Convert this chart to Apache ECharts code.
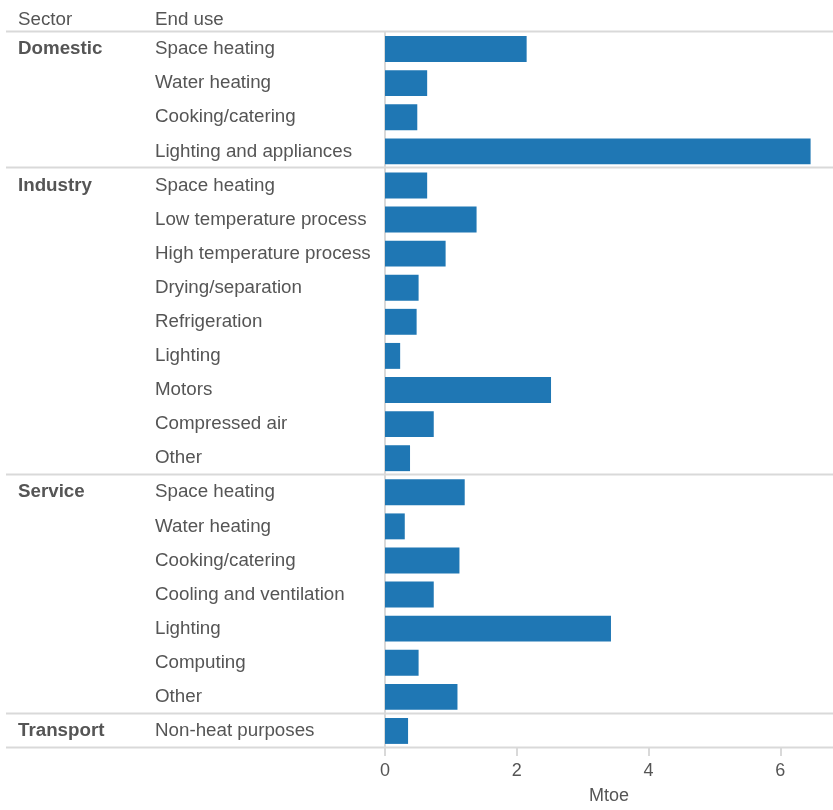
<!DOCTYPE html>
<html>
<head>
<meta charset="utf-8">
<script src="https://cdn.jsdelivr.net/npm/echarts@6/dist/echarts.min.js"></script>
<style>html,body{margin:0;padding:0;background:#fff;}#c{width:833px;height:810px;}</style>
</head>
<body>
<div id="c"></div>
<script>
const rowSector = ['Domestic','Domestic','Domestic','Domestic',
  'Industry','Industry','Industry','Industry','Industry','Industry','Industry','Industry','Industry',
  'Service','Service','Service','Service','Service','Service','Service',
  'Transport'];
const endUse = ['Space heating','Water heating','Cooking/catering','Lighting and appliances',
  'Space heating','Low temperature process','High temperature process','Drying/separation','Refrigeration','Lighting','Motors','Compressed air','Other',
  'Space heating','Water heating','Cooking/catering','Cooling and ventilation','Lighting','Computing','Other',
  'Non-heat purposes'];
const mtoe = [2.15, 0.64, 0.49, 6.46,
  0.64, 1.39, 0.92, 0.51, 0.48, 0.23, 2.52, 0.74, 0.38,
  1.21, 0.30, 1.13, 0.74, 3.43, 0.51, 1.10,
  0.35];
const xTicks = [0, 2, 4, 6];
const headers = ['Sector', 'End use'];
const axisName = 'Mtoe';

const FONT = '"Liberation Sans", Arial, sans-serif';
const TXT = '#555555';
const LINE = '#d9d9d9';
const FS = 18.75;
const idx = endUse.map((_, i) => String(i));

const chart = echarts.init(document.getElementById('c'), null, {renderer: 'canvas'});
const option = {
  animation: false,
  backgroundColor: '#fff',
  textStyle: {fontFamily: FONT},
  grid: {left: 385, top: 32, width: 450, height: 720, containLabel: false},
  xAxis: {
    type: 'value', min: 0, max: 6.8, interval: 2,
    name: axisName, nameLocation: 'middle', nameGap: 39,
    nameTextStyle: {color: TXT, fontSize: 18, fontFamily: FONT},
    axisLine: {show: false},
    axisTick: {show: true, length: 8, lineStyle: {color: LINE, width: 2}, customValues: xTicks},
    axisLabel: {color: TXT, fontSize: 18, fontFamily: FONT, margin: 14, customValues: xTicks},
    splitLine: {show: false}
  },
  yAxis: [{
    type: 'category', data: idx, inverse: true, offset: 1,
    axisLine: {show: true, lineStyle: {color: LINE, width: 2}},
    axisTick: {show: false},
    axisLabel: {align: 'left', margin: 229, color: TXT, fontSize: FS, fontFamily: FONT,
      formatter: v => endUse[+v]},
  }, {
    type: 'category', data: idx, inverse: true, position: 'left', offset: 1,
    axisLine: {show: false}, axisTick: {show: false},
    axisLabel: {align: 'left', margin: 366, color: TXT, fontSize: FS, fontWeight: 'bold', fontFamily: FONT,
      formatter: v => { const i = +v; return (i === 0 || rowSector[i] !== rowSector[i-1]) ? rowSector[i] : ''; }},
  }],
  series: [{
    type: 'bar', data: mtoe, barCategoryGap: '24%',
    itemStyle: {color: '#1f77b4'}, silent: true
  }]
};
chart.setOption(option);

// separator lines between sectors, positioned through the category axis
const p = i => chart.convertToPixel({yAxisIndex: 0}, String(i));
const step = p(1) - p(0);
const ys = [p(0) - step / 2];
for (let i = 1; i < rowSector.length; i++) {
  if (rowSector[i] !== rowSector[i-1]) ys.push((p(i-1) + p(i)) / 2);
}
ys.push(p(rowSector.length - 1) + step / 2);
const graphics = ys.map(y => ({
  type: 'line', z: 5, shape: {x1: 6, y1: Math.round(y) - 0.5, x2: 833, y2: Math.round(y) - 0.5},
  style: {stroke: LINE, lineWidth: 2}
}));
graphics.push({type: 'text', left: 18, top: 10, style: {text: headers[0], fill: TXT, font: FS + 'px ' + FONT}});
graphics.push({type: 'text', left: 155, top: 10, style: {text: headers[1], fill: TXT, font: FS + 'px ' + FONT}});
chart.setOption({graphic: graphics});
</script>
</body>
</html>
